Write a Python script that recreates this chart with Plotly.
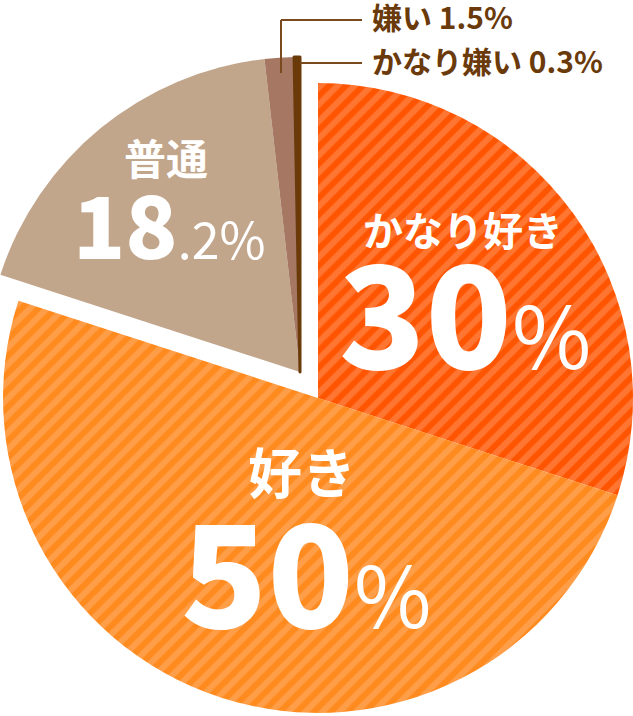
import math
import plotly.graph_objects as go

# ---- data ----
labels = ["かなり好き", "好き", "普通", "嫌い", "かなり嫌い"]
values = [30, 50, 18.2, 1.5, 0.3]
base_colors = ["#FF5500", "#FF8A1E", "#C2A68C", "#A67863", "#6B3A09"]
stripe_colors = ["#FF7633", "#FF9E48", "#C2A68C", "#A67863", "#6B3A09"]
offset_group = [False, False, True, True, True]   # slices shifted up-left
edge_widths = [0, 0, 0, 0, 3]                      # keeps the thin slice visible

SHIFT = 18                      # figure is placed 18px left of the page edge
W, H = 633 + SHIFT, 716
R = 315
c1 = (318 + SHIFT, 398.0)       # pie centre (figure px)
c2 = (c1[0] - 18, c1[1] - 26)   # centre of the shifted group
CLEAR = "rgba(0,0,0,0)"
FONT = "Noto Sans CJK JP"
BROWN = "#6B3A0B"


def domain(c):
    return dict(x=[max(0.0, (c[0] - R) / W), min(1.0, (c[0] + R) / W)],
                y=[max(0.0, 1 - (c[1] + R) / H), min(1.0, 1 - (c[1] - R) / H)])


def px(x, y):
    """screen pixel -> paper coords"""
    return (x + SHIFT) / W, 1 - y / H


fig = go.Figure()
for grp, c in ((False, c1), (True, c2)):
    cols = [b if g == grp else CLEAR for b, g in zip(base_colors, offset_group)]
    fgs = [s if g == grp else CLEAR for s, g in zip(stripe_colors, offset_group)]
    shapes = ["/" if (g == grp and i < 2) else "" for i, g in enumerate(offset_group)]
    lw = [w if g == grp else 0 for w, g in zip(edge_widths, offset_group)]
    fig.add_trace(go.Pie(
        labels=labels, values=values, sort=False, direction="clockwise",
        rotation=0, textinfo="none", hoverinfo="skip", showlegend=False,
        domain=domain(c),
        marker=dict(colors=cols, line=dict(width=lw, color=cols),
                    pattern=dict(shape=shapes, bgcolor=cols, fgcolor=fgs,
                                 size=12, solidity=0.5, fillmode="replace")),
    ))


def split_pct(v):
    s = f"{v:g}"
    if "." in s:
        a, b = s.split(".")
        return a, "." + b
    return s, ""


annotations = []


def add_text(x, y, text, size, color="white", xanchor="center", weight=700):
    ax, ay = px(x, y)
    annotations.append(dict(
        x=ax, y=ay, xref="paper", yref="paper", xanchor=xanchor, yanchor="middle",
        text=text, showarrow=False,
        font=dict(family=FONT, size=size, color=color, weight=weight)))


PCT = "<span style='font-weight:400;font-size:{}px'>{}%</span>"

# かなり好き
add_text(463, 229, labels[0], 40)
i_, f_ = split_pct(values[0])
add_text(465, 307, i_ + PCT.format(86, f_), 142, weight=900)
# 好き
add_text(302, 471, labels[1], 54)
i_, f_ = split_pct(values[1])
add_text(306, 566, i_ + PCT.format(84, f_), 142, weight=900)
# 普通
add_text(166, 157, labels[2], 42)
i_, f_ = split_pct(values[2])
add_text(169, 222, i_ + PCT.format(50, f_), 86, weight=900)
# 嫌い / かなり嫌い (outside)
add_text(370, 16, f"{labels[3]} {values[3]:g}%", 30, color=BROWN, xanchor="left")
add_text(370, 60, f"{labels[4]} {values[4]:g}%", 30, color=BROWN, xanchor="left")

# leader lines (screen px)
LINE = "#7A4A1E"
leaders = [(281, 73, 281, 20), (281, 20, 362, 20), (300, 63, 362, 63)]
line_shapes = []
for (x0, y0, x1, y1) in leaders:
    a0, b0 = px(x0, y0)
    a1, b1 = px(x1, y1)
    line_shapes.append(dict(type="line", xref="paper", yref="paper", x0=a0, y0=b0,
                            x1=a1, y1=b1, line=dict(color=LINE, width=2)))

fig.update_layout(
    width=W, height=H, margin=dict(l=0, r=0, t=0, b=0),
    paper_bgcolor="white", plot_bgcolor="white",
    annotations=annotations, shapes=line_shapes,
)
fig.write_html(
    "out.html",
    config={"displayModeBar": False},
    post_script=(
        "document.body.style.margin='0px';"
        "document.body.style.overflow='hidden';"
        f"document.getElementById('{{plot_id}}').style.marginLeft='-{SHIFT}px';"
    ),
)
